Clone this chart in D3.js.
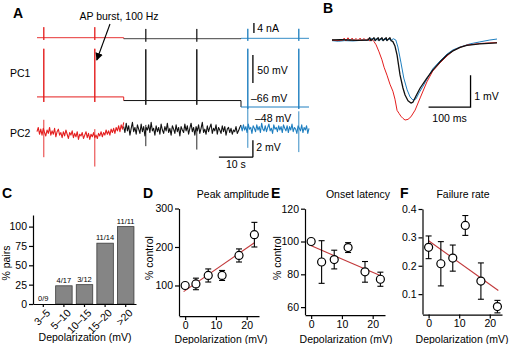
<!DOCTYPE html>
<html>
<head>
<meta charset="utf-8">
<script src="https://cdn.jsdelivr.net/npm/d3@7"></script>
<style>
body { margin: 0; background: #fff; }
svg { font-family: "Liberation Sans", Arial, sans-serif; }
.axis path, .axis line { stroke: #000; stroke-width: 1.2; }
.axis text { font-size: 10.5px; fill: #000; font-family: "Liberation Sans", Arial, sans-serif; }
</style>
</head>
<body>
<svg id="fig" width="513" height="344"></svg>
<script>
// ---- panel A : paired recording, 3 holding levels of PC1
const segStart = [0, 25.5, 60];          // s
const segEnd = [25.5, 60, 80];
const burstTimes = [2, 17, 32, 47, 62, 77];
const holdCurrent = [0, -0.4, -0.25];    // nA
const pulseTop = [4.2, 3.9, 3.8];
const pulseBottom = [-0.9, -1.2, -1.0];
const pc1Vm = [-48, -54.5, -66];         // mV
const apPeak = [38, 37, 38];
const apTrough = [-57, -62, -69.5];
const pc2Red = [-0.2,0.3,-0.5,0.1,-0.6,0.2,-0.3,-0.7,0.0,-0.4,0.3,-0.6,-0.1,-0.5,0.2,-0.8,-0.2,0.1,-0.6,-0.3,
  -0.9,-0.2,-0.7,0.0,-0.5,-1.0,-0.3,-0.6,-0.1,-0.9,-0.4,-0.8,-0.2,-1.1,-0.5,-0.7,-0.3,-1.0,-0.6,-0.2,
  -0.9,-0.4,-1.1,-0.5,-0.8,-0.3,-0.9,-0.6,-1.0,-0.4,
  -0.7,-0.2,-0.8,-0.3,-0.6,0.0,-0.5,-0.1,-0.6,0.1,-0.3,0.2,-0.4,0.3,-0.1,0.5,-0.2,0.6,0.1,0.9];
const pc2Black = [0.4,-0.3,0.8,-0.1,0.5,-0.6,0.2,0.9,-0.2,0.3,-0.5,0.6,0.1,-0.4,0.7,-0.2,0.4,-0.7,0.3,0.0,
  0.6,-0.3,0.9,-0.1,0.2,-0.6,0.5,-0.2,0.3,-0.5,0.7,0.0,-0.4,0.4,-0.1,0.8,-0.3,0.2,-0.6,0.5,
  0.1,-0.4,0.6,-0.2,0.3,-0.7,0.4,0.0,-0.3,0.7,-0.1,0.5,-0.5,0.2,0.8,-0.2,0.3,-0.6,0.4,-0.1,
  0.6,-0.4,0.2,0.9,-0.3,0.1,-0.5,0.5,-0.2,0.3,0.7,-0.4,0.2,-0.1,0.6,-0.5,0.3,0.0,-0.4,0.5,
  -0.2,0.4,-0.6,0.1,0.3,-0.3,0.2,-0.5,0.0,-0.2,0.4,-0.4,-0.1,0.3,0.6];
const pc2Blue = [0.5,-0.1,0.6,0.0,0.4,-0.3,0.7,0.1,0.3,-0.4,0.5,0.2,-0.2,0.6,0.0,0.4,-0.3,0.8,0.1,-0.1,
  0.5,-0.2,0.3,0.7,-0.1,0.2,-0.4,0.6,0.1,0.3,-0.2,0.5,0.0,0.4,-0.3,0.6,0.2,-0.1,0.5,-0.3,
  0.4,0.0,0.7,-0.2,0.3,0.1,-0.4,0.5,0.2,-0.1,0.6,-0.3,0.3,0.0,0.5,-0.4,0.2];
const pc2ArtUp = [1.0, 0.3, 2.0];
const pc2ArtDown = [-3.4, -2.2, -2.8];

// ---- panel B : averaged EPSPs [ms, mV]
const bRed = [[0,0],[12,-0.02],[26,0.0],[29,0.06],[33,-0.03],[38,0.07],[43,-0.02],[48,0.06],[52,-0.03],[57,0.05],[62,-0.02],
  [67,0.06],[71,-0.03],[76,0.05],[81,-0.02],[86,0.04],[90,-0.03],[95,0.02],[100,-0.05],[105,-0.15],[112,-0.37],
  [119,-0.62],[124,-0.85],[131,-1.1],[138,-1.38],[145,-1.6],[150,-1.85],[155,-2.2],[160,-2.3],[164,-2.38],[169,-2.45],
  [174,-2.5],[181,-2.48],[188,-2.4],[198,-2.19],[210,-1.81],[226,-1.31],[240,-0.97],[257,-0.72],[274,-0.5],[288,-0.34],
  [305,-0.23],[321,-0.16],[352,-0.11],[376,-0.09],[393,-0.08]];
const bBlack = [[0,0],[20,0.01],[40,0],[60,-0.01],[86,0],[90,0.07],[93,-0.02],[100,0.07],[103,-0.02],[110,0.07],[112,-0.02],
  [119,0.07],[122,-0.02],[129,0.07],[131,-0.02],[138,0.07],[141,-0.02],[145,-0.05],[150,-0.19],[155,-0.47],[162,-1.09],
  [169,-1.5],[174,-1.72],[181,-1.9],[188,-1.97],[193,-1.94],[200,-1.75],[210,-1.5],[226,-1.19],[240,-0.94],[257,-0.69],
  [274,-0.47],[288,-0.34],[305,-0.23],[321,-0.17],[352,-0.12],[393,-0.09]];
const bBlue = [[0,-0.02],[15,-0.04],[30,-0.02],[50,-0.03],[70,-0.01],[90,0.0],[95,0.05],[100,-0.02],[105,0.05],[110,-0.02],
  [115,0.05],[120,-0.02],[125,0.05],[130,-0.02],[135,0.05],[140,-0.02],[146,0.04],[152,0],[157,-0.22],[164,-0.69],
  [171,-1.19],[179,-1.56],[186,-1.78],[193,-1.88],[200,-1.84],[207,-1.66],[217,-1.44],[229,-1.16],[240,-0.9],[257,-0.66],
  [274,-0.44],[288,-0.31],[305,-0.22],[329,-0.12],[352,-0.06],[376,0],[393,0.03]];

// ---- panel C
const cCats = ["3\u20135", "5\u201310", "10\u201315", "15\u201320", ">20"];
const cResp = [0, 4, 3, 11, 11];
const cTotal = [9, 17, 12, 14, 11];
const cTicks = [0, 25, 50, 75, 100];

// ---- panels D, E, F
const dX = [0, 3.5, 7.5, 12, 17.5, 22.5];
const dY = [100, 104, 126, 126, 178, 232];
const dErr = [0, 15, 17, 13, 17, 32];
const dFitX = [-0.5, 22.5], dFitY = [84, 211];
const eX = [0, 3.4, 7.5, 12, 17.5, 22.5];
const eY = [100, 87.5, 89, 96.3, 81.5, 77];
const eErr = [0, 13, 5.7, 3, 6.3, 4.3];
const eFitX = [-0.5, 22.8], eFitY = [97.8, 79];
const fX = [0, 4, 7.9, 12, 17.1, 22.5];
const fY = [0.265, 0.207, 0.227, 0.342, 0.146, 0.056];
const fErr = [0.04, 0.078, 0.046, 0.035, 0.064, 0.022];
const fFitX = [0, 22.8], fFitY = [0.288, 0.113];
const depTicks = [0, 10, 20];

const red = "#e41e1e", blue = "#1f7fc0", dark = "#111";
const segColor = [red, dark, blue];
const fitColor = "#c2393b";
const svg = d3.select("#fig");

svg.append("defs").append("marker")
  .attr("id", "arr").attr("viewBox", "0 0 10 10").attr("refX", 9).attr("refY", 5)
  .attr("markerWidth", 7).attr("markerHeight", 7).attr("orient", "auto")
  .append("path").attr("d", "M0,0 L10,5 L0,10 z").attr("fill", "#000");

function label(x, y, txt, size, opts) {
  const t = svg.append("text").attr("x", x).attr("y", y).attr("font-size", size).text(txt);
  if (opts && opts.bold) t.attr("font-weight", "bold");
  if (opts && opts.anchor) t.attr("text-anchor", opts.anchor);
  return t;
}

// ================= A
const tA = d3.scaleLinear().domain([0, 80]).range([37, 309]);
const yCur = d3.scaleLinear().domain([0, 4]).range([37.7, 27.7]);
const yPC1 = d3.scaleLinear().domain([-66, 34]).range([107, 51]);
const yPC2 = d3.scaleLinear().domain([0, 2]).range([130, 113]);

function stepTrace(k, bases, peaks, dips) {
  const pts = [[segStart[k], bases[k]]];
  burstTimes.filter(t => t >= segStart[k] && t < segEnd[k]).forEach(t => {
    pts.push([t, bases[k]], [t, peaks[k]], [t, dips[k]], [t, bases[k]]);
  });
  pts.push([segEnd[k], bases[k]]);
  if (k < 2) pts.push([segEnd[k], bases[k + 1]]);
  return pts;
}

const gA = svg.append("g");
[0, 1, 2].forEach(k => {
  const lc = d3.line().x(d => tA(d[0])).y(d => yCur(d[1]));
  gA.append("path")
    .attr("d", lc(stepTrace(k, holdCurrent, holdCurrent.map((h, i) => h + pulseTop[i]), holdCurrent.map((h, i) => h + pulseBottom[i]))))
    .attr("fill", "none").attr("stroke", segColor[k]).attr("stroke-width", k === 1 ? 0.8 : 0.9);
  const lv = d3.line().x(d => tA(d[0])).y(d => yPC1(d[1]));
  gA.append("path")
    .attr("d", lv(stepTrace(k, pc1Vm, apPeak, apTrough)))
    .attr("fill", "none").attr("stroke", segColor[k]).attr("stroke-width", 1);
});

const pc2Sets = [pc2Red, pc2Black, pc2Blue];
const l2 = d3.line().x(d => tA(d[0])).y(d => yPC2(d[1]));
pc2Sets.forEach((arr, k) => {
  const n = arr.length;
  const pts = arr.map((v, i) => [segStart[k] + i * (segEnd[k] - segStart[k]) / (n - 1), v]);
  gA.append("path").attr("d", l2(pts)).attr("fill", "none")
    .attr("stroke", segColor[k]).attr("stroke-width", 1.1).attr("stroke-linejoin", "round");
  burstTimes.filter(t => t >= segStart[k] && t < segEnd[k]).forEach(t => {
    const idx = Math.round((t - segStart[k]) / (segEnd[k] - segStart[k]) * (n - 1));
    gA.append("path").attr("d", l2([[t, arr[idx] + pc2ArtUp[k]], [t, arr[idx] + pc2ArtDown[k]]]))
      .attr("stroke", segColor[k]).attr("stroke-width", 0.9);
  });
});

// scale bars A
function bar(x1, y1, x2, y2) {
  gA.append("line").attr("x1", x1).attr("y1", y1).attr("x2", x2).attr("y2", y2)
    .attr("stroke", "#000").attr("stroke-width", 1.3);
}
bar(tA(63.8), yCur(5.9), tA(63.8), yCur(1.9));
bar(tA(63.5), yPC1(27), tA(63.5), yPC1(-23));
bar(tA(53.5), yPC2(-3.2), tA(63.5), yPC2(-3.2));
bar(tA(63.5), yPC2(-3.2), tA(63.5), yPC2(-1.2));
label(tA(64.8), 32, "4 nA", 10.5);
label(tA(64.8), 74, "50 mV", 10.5);
label(251, 102, "\u201366 mV", 10.5);
label(255, 122, "\u201348 mV", 10.5);
label(tA(64.5), 151, "2 mV", 10.5);
label(tA(58.5), 168, "10 s", 10.5, { anchor: "middle" });
label(10, 77, "PC1", 10.5);
label(10, 137, "PC2", 10.5);
label(119, 20, "AP burst, 100 Hz", 10.5, { anchor: "middle" });
svg.append("line").attr("x1", 110).attr("y1", 24).attr("x2", tA(burstTimes[1]) + 2).attr("y2", yPC1(18))
  .attr("stroke", "#000").attr("stroke-width", 1.1).attr("marker-end", "url(#arr)");
label(13, 18, "A", 14, { bold: true });

// ================= B
const tB = d3.scaleLinear().domain([0, 393]).range([332, 497]);
const vB = d3.scaleLinear().domain([-2.5, 0]).range([120, 40]);
const lB = d3.line().x(d => tB(d[0])).y(d => vB(d[1]));
[[bBlue, blue], [bRed, red], [bBlack, dark]].forEach(([arr, c]) => {
  svg.append("path").attr("d", lB(arr)).attr("fill", "none").attr("stroke", c)
    .attr("stroke-width", c === dark ? 1.3 : 1).attr("stroke-linejoin", "round");
});
svg.append("path").attr("d", lB([[230, -2.1], [330, -2.1], [330, -1.1]]))
  .attr("fill", "none").attr("stroke", "#000").attr("stroke-width", 1.3);
label(tB(339), 100, "1 mV", 10.5);
label(tB(280), 122, "100 ms", 10.5, { anchor: "middle" });
label(323, 13, "B", 14, { bold: true });

// ================= C
const xC = d3.scaleBand().domain(cCats).range([33, 136]).paddingInner(0.2).paddingOuter(0.1);
const yC = d3.scaleLinear().domain([0, 115]).range([304, 215]);
const pct = cResp.map((r, i) => r / cTotal[i] * 100);
svg.append("g").selectAll("rect").data(cCats).join("rect")
  .attr("x", d => xC(d)).attr("width", xC.bandwidth())
  .attr("y", (d, i) => yC(pct[i])).attr("height", (d, i) => yC(0) - yC(pct[i]))
  .attr("fill", "#858585").attr("stroke", "#3c3c3c").attr("stroke-width", 0.8);
svg.append("g").selectAll("text").data(cCats).join("text")
  .attr("x", d => xC(d) + xC.bandwidth() / 2).attr("y", (d, i) => yC(pct[i]) - 3)
  .attr("text-anchor", "middle").attr("font-size", 7.5)
  .text((d, i) => cResp[i] + "/" + cTotal[i]);
svg.append("g").attr("class", "axis").attr("transform", "translate(33,0)")
  .call(d3.axisLeft(yC).tickValues(cTicks).tickSize(4).tickSizeOuter(0).tickPadding(2));
const axCx = svg.append("g").attr("class", "axis").attr("transform", "translate(0,304)")
  .call(d3.axisBottom(xC).tickSize(3).tickSizeOuter(0));
axCx.selectAll("text").attr("font-size", 8).attr("text-anchor", "end")
  .attr("x", 0).attr("y", 0).attr("dy", "0.35em")
  .attr("transform", "translate(5,7) rotate(-45)");
svg.append("text").attr("transform", "translate(10,263) rotate(-90)").attr("text-anchor", "middle")
  .attr("font-size", 10.5).text("% pairs");
label(85, 341, "Depolarization (mV)", 10.5, { anchor: "middle" });
label(2, 198, "C", 14, { bold: true });

// ================= D E F
function scatterPanel(o) {
  const x = d3.scaleLinear().domain([-2, 24]).range(o.xr);
  const y = d3.scaleLinear().domain(o.yd).range(o.yr);
  const g = svg.append("g");
  g.append("g").attr("class", "axis").attr("transform", `translate(${o.xr[0]},0)`)
    .call(d3.axisLeft(y).tickValues(o.yTicks).tickFormat(o.fmt).tickSize(4).tickSizeOuter(0).tickPadding(2));
  g.append("g").attr("class", "axis").attr("transform", `translate(0,${o.yr[0] + 0.6})`)
    .call(d3.axisBottom(x).tickValues(depTicks).tickSize(4).tickSizeOuter(0).tickPadding(1));
  g.append("path").attr("d", d3.line().x(d => x(d[0])).y(d => y(d[1]))(o.fitX.map((v, i) => [v, o.fitY[i]])))
    .attr("stroke", fitColor).attr("stroke-width", 1.1).attr("fill", "none");
  const pts = o.xs.map((v, i) => ({ x: v, y: o.ys[i], e: o.err[i] }));
  const eb = g.append("g").attr("stroke", "#000").attr("stroke-width", 1.1);
  pts.filter(p => p.e > 0).forEach(p => {
    eb.append("line").attr("x1", x(p.x)).attr("x2", x(p.x)).attr("y1", y(p.y - p.e)).attr("y2", y(p.y + p.e));
    [p.y - p.e, p.y + p.e].forEach(v => eb.append("line")
      .attr("x1", x(p.x) - 3).attr("x2", x(p.x) + 3).attr("y1", y(v)).attr("y2", y(v)));
  });
  g.selectAll("circle").data(pts).join("circle")
    .attr("cx", d => x(d.x)).attr("cy", d => y(d.y)).attr("r", 4)
    .attr("fill", "#fff").attr("stroke", "#000").attr("stroke-width", 1.2);
  label(o.letterX, 198, o.letter, 14, { bold: true });
  label(o.titleX, 198, o.title, 10.5, { anchor: "middle" });
  label(o.depX, 342.5, "Depolarization (mV)", 10.5, { anchor: "middle" });
  if (o.ylab) svg.append("text").attr("transform", `translate(${o.ylabX},258) rotate(-90)`)
    .attr("text-anchor", "middle").attr("font-size", 10.5).text(o.ylab);
}

scatterPanel({ xr: [179, 259], yd: [22, 300], yr: [315.5, 208.5], yTicks: [100, 200, 300], fmt: d3.format("d"),
  xs: dX, ys: dY, err: dErr, fitX: dFitX, fitY: dFitY, letter: "D", letterX: 143,
  title: "Peak amplitude", titleX: 233, depX: 221, ylab: "% control", ylabX: 153 });
scatterPanel({ xr: [305, 385], yd: [55.5, 120], yr: [314.5, 208.7], yTicks: [60, 80, 100, 120], fmt: d3.format("d"),
  xs: eX, ys: eY, err: eErr, fitX: eFitX, fitY: eFitY, letter: "E", letterX: 271,
  title: "Onset latency", titleX: 358, depX: 346, ylab: "% control", ylabX: 281 });
scatterPanel({ xr: [422.5, 502], yd: [0.03, 0.4], yr: [314, 209], yTicks: [0.1, 0.2, 0.3, 0.4], fmt: d3.format(".1f"),
  xs: fX, ys: fY, err: fErr, fitX: fFitX, fitY: fFitY, letter: "F", letterX: 400,
  title: "Failure rate", titleX: 463, depX: 462 });
</script>
</body>
</html>
